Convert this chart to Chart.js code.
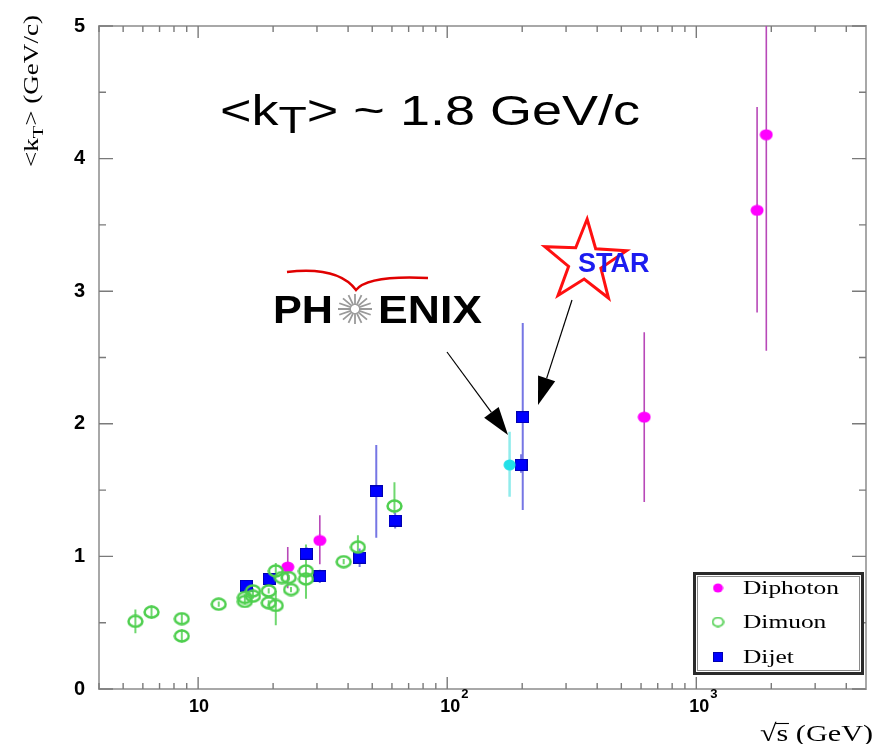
<!DOCTYPE html>
<html>
<head>
<meta charset="utf-8">
<title>kT vs sqrt(s)</title>
<script src="https://cdn.jsdelivr.net/npm/chart.js@4.4.0/dist/chart.umd.min.js"></script>
<style>
  html, body { margin: 0; padding: 0; background: #fff; }
</style>
</head>
<body>
<canvas id="kt" width="874" height="744"></canvas>
<script>
// sqrt(s) in GeV, <kT> in GeV/c; lo/hi are the ends of each error bar
const diphotonX  = [22.9, 30.8, 618, 1754, 1910];
const diphotonY  = [0.92, 1.12, 2.05, 3.61, 4.18];
const diphotonLo = [0.76, 0.94, 1.41, 2.84, 2.55];
const diphotonHi = [1.07, 1.31, 2.69, 4.39, 5.20];

const dimuonX  = [5.6, 6.5, 8.6, 8.6, 12.1, 15.4, 15.4, 16.6, 16.6, 19.2, 19.2, 20.5, 20.5, 21.7, 23.1, 23.6, 27.1, 27.1, 38.4, 43.8, 61.4];
const dimuonY  = [0.51, 0.58, 0.53, 0.40, 0.64, 0.69, 0.66, 0.74, 0.70, 0.74, 0.65, 0.63, 0.89, 0.84, 0.84, 0.75, 0.89, 0.83, 0.96, 1.07, 1.38];
const dimuonLo = [0.42, 0.53, 0.49, 0.35, 0.62, 0.67, 0.64, 0.72, 0.68, 0.72, 0.63, 0.48, 0.86, 0.82, 0.82, 0.73, 0.82, 0.68, 0.94, 0.98, 1.32];
const dimuonHi = [0.60, 0.63, 0.57, 0.45, 0.66, 0.71, 0.68, 0.76, 0.72, 0.76, 0.67, 0.74, 0.95, 0.86, 0.86, 0.77, 1.09, 0.90, 0.98, 1.16, 1.56];

const dijetX  = [15.6, 19.3, 27.2, 30.8, 44.5, 51.9, 61.8, 198, 201];
const dijetY  = [0.78, 0.83, 1.02, 0.85, 0.99, 1.49, 1.27, 1.69, 2.05];
const dijetLo = [0.74, 0.80, 0.98, 0.80, 0.92, 1.14, 1.21, 1.63, 1.35];
const dijetHi = [0.82, 0.86, 1.07, 0.90, 1.06, 1.84, 1.33, 1.77, 2.76];

// PHENIX point at RHIC energy
const phenixX  = [178];
const phenixY  = [1.69];
const phenixLo = [1.45];
const phenixHi = [1.94];

const seriesNames = ['Diphoton', 'Dimuon', 'Dijet'];
const xTickVals = [10, 100, 1000];
const yTickVals = [0, 1, 2, 3, 4, 5];

const sans = '"Liberation Sans", Arial, sans-serif';
const serif = '"Liberation Serif", "Times New Roman", serif';

// small bitmaps used as point styles
function makeMarker(w, h, paint) {
  const c = document.createElement('canvas');
  c.width = w; c.height = h;
  paint(c.getContext('2d'), w, h);
  return c;
}
const dotMarker = (w, h) => makeMarker(w, h, (g, w, h) => {
  g.fillStyle = '#ff00ff';
  g.beginPath(); g.ellipse(w / 2, h / 2, w / 2 - 0.5, h / 2 - 0.5, 0, 0, Math.PI * 2); g.fill();
});
const ringMarker = (w, h, lw) => makeMarker(w, h, (g, w, h) => {
  g.strokeStyle = '#4fcf4f'; g.lineWidth = lw;
  g.beginPath(); g.ellipse(w / 2, h / 2, w / 2 - lw / 2 - 0.3, h / 2 - lw / 2 - 0.3, 0, 0, Math.PI * 2); g.stroke();
});
const squareMarker = (w, h) => makeMarker(w, h, (g, w, h) => {
  g.fillStyle = '#0000ff'; g.fillRect(0, 0, w, h);
  g.strokeStyle = '#0000b0'; g.lineWidth = 1; g.strokeRect(0.5, 0.5, w - 1, h - 1);
});
const cyanMarker = makeMarker(13, 12, (g, w, h) => {
  g.fillStyle = '#22e0e8';
  g.beginPath(); g.ellipse(w / 2, h / 2, w / 2 - 0.5, h / 2 - 0.5, 0, 0, Math.PI * 2); g.fill();
});
const markers = [dotMarker(14, 12), ringMarker(17, 14, 2.5), squareMarker(13, 12)];
const legendMarkers = [dotMarker(11, 10), ringMarker(13, 11, 1.8), squareMarker(10, 10)];

const toPoints = (xs, ys) => xs.map((v, i) => ({ x: v, y: ys[i] }));

// text drawn in pieces, stretched along its run to a given length
function runText(ctx, parts, targetW) {
  let natural = 0;
  parts.forEach(p => { ctx.font = p.font; natural += ctx.measureText(p.text).width; });
  ctx.scale(targetW / natural, 1);
  let cx = 0;
  parts.forEach(p => {
    ctx.font = p.font;
    ctx.fillText(p.text, cx, p.dy || 0);
    cx += ctx.measureText(p.text).width;
  });
}

function errorBars(ctx, x, y, xs, lo, hi, color, width) {
  ctx.strokeStyle = color;
  ctx.lineWidth = width;
  ctx.beginPath();
  xs.forEach((v, i) => {
    const px = x.getPixelForValue(v);
    ctx.moveTo(px, y.getPixelForValue(lo[i]));
    ctx.lineTo(px, y.getPixelForValue(hi[i]));
  });
  ctx.stroke();
}

function arrow(ctx, x0, y0, x1, y1) {
  const ang = Math.atan2(y1 - y0, x1 - x0);
  const len = 28, half = 9;
  const bx = x1 - len * Math.cos(ang), by = y1 - len * Math.sin(ang);
  ctx.strokeStyle = '#000'; ctx.lineWidth = 1.2;
  ctx.beginPath(); ctx.moveTo(x0, y0); ctx.lineTo(bx, by); ctx.stroke();
  ctx.fillStyle = '#000';
  ctx.beginPath();
  ctx.moveTo(x1, y1);
  ctx.lineTo(bx + half * Math.sin(ang), by - half * Math.cos(ang));
  ctx.lineTo(bx - half * Math.sin(ang), by + half * Math.cos(ang));
  ctx.closePath(); ctx.fill();
}

const decor = {
  id: 'decor',
  beforeDatasetsDraw(chart) {
    const { ctx, chartArea: a, scales: { x, y } } = chart;
    ctx.save();
    // frame
    ctx.strokeStyle = '#a8a8a8'; ctx.lineWidth = 2;
    ctx.strokeRect(a.left, a.top, a.right - a.left, a.bottom - a.top);

    // inward ticks on all four sides
    ctx.strokeStyle = '#7a7a7a'; ctx.lineWidth = 1.4;
    ctx.beginPath();
    for (let d = 1; d <= 1000; d *= 10) {
      for (let m = 1; m <= 9; m++) {
        const v = d * m;
        if (v < x.min || v > x.max) continue;
        const px = x.getPixelForValue(v);
        const len = m === 1 ? 12 : 6;
        ctx.moveTo(px, a.bottom); ctx.lineTo(px, a.bottom - len);
        ctx.moveTo(px, a.top); ctx.lineTo(px, a.top + len);
      }
    }
    for (let v = 0; v <= 5; v += 0.5) {
      const py = y.getPixelForValue(v);
      const len = v % 1 === 0 ? 14 : 7;
      ctx.moveTo(a.left, py); ctx.lineTo(a.left + len, py);
      ctx.moveTo(a.right, py); ctx.lineTo(a.right - len, py);
    }
    ctx.stroke();

    // error bars, under the markers
    ctx.beginPath();
    ctx.rect(a.left, a.top, a.right - a.left, a.bottom - a.top);
    ctx.clip();
    errorBars(ctx, x, y, dimuonX, dimuonLo, dimuonHi, '#6fd86f', 2);
    errorBars(ctx, x, y, phenixX, phenixLo, phenixHi, '#90ecec', 2.5);
    errorBars(ctx, x, y, dijetX, dijetLo, dijetHi, '#7676e4', 2);
    errorBars(ctx, x, y, diphotonX, diphotonLo, diphotonHi, '#b848b8', 1.6);
    ctx.restore();
  },
  afterDraw(chart) {
    const { ctx, scales: { x } } = chart;
    ctx.save();
    ctx.fillStyle = '#000';
    ctx.textBaseline = 'alphabetic';

    // x tick labels: powers of ten
    xTickVals.forEach(v => {
      const px = x.getPixelForValue(v);
      const e = Math.round(Math.log10(v));
      ctx.font = 'bold 18px ' + sans;
      if (e === 1) {
        ctx.textAlign = 'center';
        ctx.fillText('10', px + 1, 712);
      } else {
        ctx.textAlign = 'left';
        ctx.fillText('10', px - 7, 712);
        const w = ctx.measureText('10').width;
        ctx.font = 'bold 13px ' + sans;
        ctx.fillText(String(e), px - 7 + w + 1, 698);
      }
    });
    ctx.textAlign = 'left';

    // y axis title, rotated
    ctx.save();
    ctx.translate(38, 167);
    ctx.rotate(-Math.PI / 2);
    runText(ctx, [
      { text: '<k', font: '20px ' + serif },
      { text: 'T', font: '15px ' + serif, dy: 5 },
      { text: '> (GeV/c)', font: '20px ' + serif }
    ], 152);
    ctx.restore();

    // x axis title
    ctx.save();
    ctx.translate(760, 741);
    runText(ctx, [{ text: '\u221As (GeV)', font: '24px ' + serif }], 113);
    ctx.font = '24px ' + serif;
    const rw = ctx.measureText('\u221A').width, sw = ctx.measureText('s').width;
    ctx.strokeStyle = '#000'; ctx.lineWidth = 1.1;
    ctx.beginPath(); ctx.moveTo(rw - 1, -17.5); ctx.lineTo(rw + sw + 0.5, -17.5); ctx.stroke();
    ctx.restore();

    // headline value
    ctx.save();
    ctx.translate(220, 125);
    runText(ctx, [
      { text: '<k', font: '42px ' + sans },
      { text: 'T', font: '36px ' + sans, dy: 8 },
      { text: '> ~ 1.8 GeV/c', font: '42px ' + sans }
    ], 420);
    ctx.restore();

    // PHENIX logo
    ctx.save();
    ctx.fillStyle = '#000';
    ctx.save(); ctx.translate(273, 323); runText(ctx, [{ text: 'PH', font: 'bold 39px ' + sans }], 60); ctx.restore();
    ctx.save(); ctx.translate(378, 323); runText(ctx, [{ text: 'ENIX', font: 'bold 39px ' + sans }], 104); ctx.restore();
    ctx.strokeStyle = '#9a9a9a'; ctx.lineWidth = 1.8;
    ctx.beginPath();
    for (let k = 0; k < 16; k++) {
      const t = k * Math.PI / 8;
      ctx.moveTo(355 + 4 * Math.cos(t), 309 + 4 * Math.sin(t));
      ctx.lineTo(355 + 17 * Math.cos(t), 309 + 15 * Math.sin(t));
    }
    ctx.stroke();
    ctx.strokeStyle = '#e00000'; ctx.lineWidth = 2.4;
    ctx.beginPath();
    ctx.moveTo(287, 272);
    ctx.quadraticCurveTo(338, 266, 356, 290);
    ctx.quadraticCurveTo(368, 275, 428, 278);
    ctx.stroke();
    ctx.restore();

    // STAR logo
    ctx.save();
    ctx.strokeStyle = '#ff1010'; ctx.lineWidth = 3;
    ctx.beginPath();
    const cx0 = 585, cy0 = 262;
    for (let k = 0; k < 10; k++) {
      const r = k % 2 === 0 ? 43 : 17;
      const t = -Math.PI / 2 + k * Math.PI / 5 + 0.05;
      const px = cx0 + r * Math.cos(t), py = cy0 + r * Math.sin(t);
      if (k === 0) ctx.moveTo(px, py); else ctx.lineTo(px, py);
    }
    ctx.closePath(); ctx.stroke();
    ctx.fillStyle = '#1c1cf0';
    ctx.font = 'bold 27px ' + sans;
    ctx.fillText('STAR', 578, 272);
    ctx.restore();

    arrow(ctx, 447, 352, 508, 435);
    arrow(ctx, 572, 300, 538, 405);

    // legend
    ctx.save();
    ctx.fillStyle = '#fff';
    ctx.fillRect(694, 573, 168, 100);
    ctx.strokeStyle = '#2a2a2a'; ctx.lineWidth = 3;
    ctx.strokeRect(694.5, 573.5, 168, 100);
    ctx.strokeStyle = '#8a8a8a'; ctx.lineWidth = 1;
    ctx.strokeRect(697.5, 576.5, 162, 94);
    const rowY = [588, 622, 657];
    ctx.font = '19px ' + serif;
    const sx = 96 / ctx.measureText(seriesNames[0]).width;
    seriesNames.forEach((name, i) => {
      const m = legendMarkers[i];
      ctx.drawImage(m, 718 - m.width / 2, rowY[i] - m.height / 2);
      ctx.save();
      ctx.translate(743, rowY[i] + 6);
      ctx.scale(sx, 1);
      ctx.fillStyle = '#000';
      ctx.fillText(name, 0, 0);
      ctx.restore();
    });
    ctx.restore();

    ctx.restore();
  }
};

new Chart(document.getElementById('kt'), {
  type: 'scatter',
  data: {
    datasets: [
      { label: seriesNames[1], data: toPoints(dimuonX, dimuonY), pointStyle: markers[1], pointRadius: 7 },
      { label: 'PHENIX', data: toPoints(phenixX, phenixY), pointStyle: cyanMarker, pointRadius: 6 },
      { label: seriesNames[0], data: toPoints(diphotonX, diphotonY), pointStyle: markers[0], pointRadius: 7 },
      { label: seriesNames[2], data: toPoints(dijetX, dijetY), pointStyle: markers[2], pointRadius: 7 }
    ]
  },
  options: {
    responsive: false,
    animation: false,
    events: [],
    devicePixelRatio: 1,
    layout: { padding: { top: 18, right: 5, left: 0, bottom: 0 } },
    plugins: { legend: { display: false }, tooltip: { enabled: false } },
    scales: {
      x: {
        type: 'logarithmic',
        min: 4,
        max: 4800,
        grid: { display: false, drawTicks: false },
        border: { display: false },
        ticks: { display: false },
        afterFit: s => { s.height = 55; }
      },
      y: {
        min: 0,
        max: 5,
        grid: { display: false, drawTicks: false },
        border: { display: false },
        afterBuildTicks: s => { s.ticks = yTickVals.map(v => ({ value: v })); },
        ticks: {
          color: '#000',
          padding: 14,
          font: { family: sans, size: 20, weight: 'bold' }
        },
        afterFit: s => { s.width = 99; }
      }
    }
  },
  plugins: [decor]
});
</script>
</body>
</html>
